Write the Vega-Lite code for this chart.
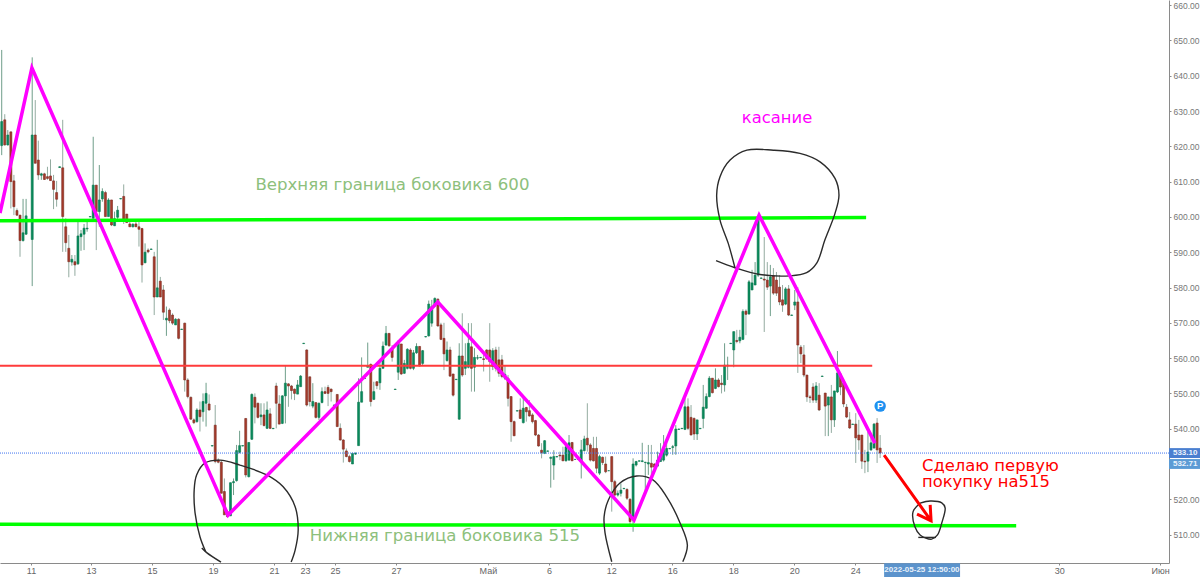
{"$schema":"https://vega.github.io/schema/vega-lite/v6.json","width":1169,"height":563,"autosize":{"type":"none"},"padding":{"left":0,"top":0,"right":31,"bottom":14},"background":"white","config":{"view":{"stroke":null},"font":"Liberation Sans"},
"datasets":{"candles":[
{"i":0,"o":620.2,"h":647.3,"l":617.5,"c":627.0},{"i":1,"o":627.5,"h":629.1,"l":620.2,"c":620.4},{"i":2,"o":620.4,"h":624.6,"l":620.2,"c":623.2},{"i":3,"o":624.1,"h":624.1,"l":602.4,"c":610.0},{"i":4,"o":610.2,"h":611.9,"l":600.5,"c":602.9},{"i":5,"o":601.8,"h":602.4,"l":600.3,"c":600.5},{"i":6,"o":600.5,"h":600.5,"l":588.7,"c":593.3},{"i":7,"o":593.3,"h":605.1,"l":593.0,"c":595.5},{"i":8,"o":595.1,"h":605.1,"l":594.9,"c":600.3},{"i":9,"o":599.1,"h":599.4,"l":599.0,"c":599.3},
{"i":10,"o":593.6,"h":645.2,"l":580.4,"c":623.2},{"i":11,"o":623.2,"h":633.1,"l":615.2,"c":615.2},{"i":12,"o":616.1,"h":621.6,"l":610.5,"c":611.9},{"i":13,"o":611.8,"h":612.5,"l":610.5,"c":612.2},{"i":14,"o":612.2,"h":612.5,"l":610.5,"c":610.6},{"i":15,"o":611.4,"h":614.2,"l":610.5,"c":610.9},{"i":16,"o":611.6,"h":616.3,"l":610.2,"c":610.3},{"i":17,"o":610.2,"h":611.9,"l":602.2,"c":607.8},{"i":18,"o":606.9,"h":610.2,"l":602.9,"c":605.0},{"i":19,"o":614.0,"h":614.3,"l":613.9,"c":614.2},
{"i":20,"o":613.9,"h":627.5,"l":590.1,"c":600.1},{"i":21,"o":597.2,"h":599.6,"l":590.1,"c":592.7},{"i":22,"o":591.1,"h":594.9,"l":582.9,"c":587.3},{"i":23,"o":587.2,"h":589.2,"l":586.2,"c":588.0},{"i":24,"o":587.3,"h":589.2,"l":583.3,"c":586.4},{"i":25,"o":586.7,"h":598.6,"l":586.4,"c":594.6},{"i":26,"o":594.4,"h":596.3,"l":590.4,"c":595.2},{"i":27,"o":595.1,"h":598.0,"l":590.6,"c":596.8},{"i":28,"o":596.6,"h":599.3,"l":595.8,"c":596.8},{"i":29,"o":600.0,"h":600.2,"l":599.9,"c":600.1},
{"i":30,"o":599.6,"h":622.7,"l":599.6,"c":609.0},{"i":31,"o":609.0,"h":609.0,"l":590.6,"c":601.5},{"i":32,"o":601.5,"h":614.7,"l":597.2,"c":604.8},{"i":33,"o":605.1,"h":608.1,"l":604.3,"c":607.2},{"i":34,"o":606.9,"h":607.4,"l":600.1,"c":600.1},{"i":35,"o":600.1,"h":605.3,"l":600.1,"c":604.8},{"i":36,"o":604.8,"h":604.8,"l":597.4,"c":597.7},{"i":37,"o":597.5,"h":601.5,"l":597.4,"c":599.5},{"i":38,"o":599.9,"h":603.1,"l":598.9,"c":601.9},{"i":39,"o":605.1,"h":605.3,"l":605.0,"c":605.2},
{"i":40,"o":605.8,"h":609.2,"l":598.0,"c":598.9},{"i":41,"o":600.8,"h":600.8,"l":598.4,"c":598.4},{"i":42,"o":598.0,"h":599.4,"l":597.2,"c":597.2},{"i":43,"o":597.2,"h":598.2,"l":597.0,"c":597.9},{"i":44,"o":598.0,"h":599.1,"l":597.2,"c":597.2},{"i":45,"o":597.2,"h":599.1,"l":591.6,"c":596.5},{"i":46,"o":596.7,"h":596.9,"l":581.4,"c":586.4},{"i":47,"o":587.0,"h":592.5,"l":586.9,"c":590.0},{"i":48,"o":590.6,"h":591.1,"l":589.7,"c":590.1},{"i":49,"o":590.8,"h":591.0,"l":590.7,"c":590.9},
{"i":50,"o":588.7,"h":590.1,"l":572.2,"c":577.3},{"i":51,"o":577.3,"h":593.5,"l":577.3,"c":579.9},{"i":52,"o":581.8,"h":583.0,"l":577.3,"c":577.3},{"i":53,"o":579.3,"h":580.7,"l":570.8,"c":573.0},{"i":54,"o":570.8,"h":574.6,"l":566.3,"c":571.3},{"i":55,"o":573.6,"h":574.1,"l":569.9,"c":570.6},{"i":56,"o":572.2,"h":572.7,"l":569.4,"c":569.9},{"i":57,"o":569.4,"h":571.3,"l":569.4,"c":571.0},{"i":58,"o":571.0,"h":571.3,"l":565.3,"c":565.6},{"i":59,"o":568.1,"h":568.3,"l":568.0,"c":568.2},
{"i":60,"o":569.9,"h":570.0,"l":550.5,"c":553.8},{"i":61,"o":553.8,"h":554.3,"l":548.6,"c":549.1},{"i":62,"o":548.9,"h":549.1,"l":542.5,"c":542.7},{"i":63,"o":542.5,"h":542.9,"l":541.3,"c":541.7},{"i":64,"o":542.0,"h":545.8,"l":541.7,"c":545.3},{"i":65,"o":545.3,"h":547.7,"l":539.2,"c":543.4},{"i":66,"o":544.8,"h":550.0,"l":542.0,"c":547.7},{"i":67,"o":547.2,"h":553.0,"l":540.6,"c":550.0},{"i":68,"o":547.0,"h":549.7,"l":545.1,"c":545.3},{"i":69,"o":535.1,"h":535.3,"l":535.0,"c":535.2},
{"i":70,"o":541.0,"h":546.7,"l":530.2,"c":530.7},{"i":71,"o":531.1,"h":531.6,"l":530.2,"c":530.5},{"i":72,"o":530.5,"h":531.1,"l":521.7,"c":521.7},{"i":73,"o":522.2,"h":525.9,"l":515.6,"c":515.6},{"i":74,"o":516.5,"h":517.0,"l":514.9,"c":515.1},{"i":75,"o":515.3,"h":524.7,"l":515.3,"c":524.7},{"i":76,"o":524.7,"h":525.9,"l":521.2,"c":525.0},{"i":77,"o":525.3,"h":535.4,"l":525.0,"c":533.8},{"i":78,"o":533.3,"h":539.4,"l":533.0,"c":535.2},{"i":79,"o":535.1,"h":535.3,"l":535.0,"c":535.2},
{"i":80,"o":542.9,"h":542.9,"l":526.2,"c":526.9},{"i":81,"o":526.4,"h":536.1,"l":526.2,"c":536.1},{"i":82,"o":537.0,"h":550.0,"l":536.8,"c":549.7},{"i":83,"o":548.9,"h":550.0,"l":541.5,"c":546.1},{"i":84,"o":547.2,"h":547.4,"l":542.9,"c":543.2},{"i":85,"o":543.4,"h":547.2,"l":541.0,"c":543.9},{"i":86,"o":543.9,"h":547.2,"l":540.6,"c":540.9},{"i":87,"o":540.1,"h":547.7,"l":539.9,"c":545.3},{"i":88,"o":544.2,"h":545.8,"l":539.9,"c":540.1},{"i":89,"o":540.0,"h":540.2,"l":539.9,"c":540.1},
{"i":90,"o":552.1,"h":553.0,"l":540.1,"c":547.2},{"i":91,"o":547.0,"h":549.5,"l":541.3,"c":541.3},{"i":92,"o":541.5,"h":549.5,"l":541.3,"c":549.3},{"i":93,"o":549.3,"h":558.0,"l":541.5,"c":552.9},{"i":94,"o":552.7,"h":552.9,"l":546.2,"c":552.1},{"i":95,"o":552.1,"h":552.4,"l":548.3,"c":550.8},{"i":96,"o":551.2,"h":551.4,"l":548.1,"c":550.0},{"i":97,"o":549.8,"h":553.8,"l":549.8,"c":552.4},{"i":98,"o":551.9,"h":555.2,"l":551.9,"c":554.9},{"i":99,"o":564.1,"h":564.3,"l":564.0,"c":564.2},
{"i":100,"o":562.3,"h":562.5,"l":546.3,"c":546.7},{"i":101,"o":554.7,"h":554.7,"l":546.3,"c":547.7},{"i":102,"o":546.4,"h":552.9,"l":545.8,"c":547.7},{"i":103,"o":547.4,"h":547.4,"l":542.9,"c":543.2},{"i":104,"o":543.2,"h":547.4,"l":542.5,"c":547.2},{"i":105,"o":547.4,"h":551.7,"l":547.2,"c":550.5},{"i":106,"o":550.5,"h":551.9,"l":549.8,"c":550.0},{"i":107,"o":551.7,"h":552.4,"l":546.4,"c":550.0},{"i":108,"o":551.2,"h":551.4,"l":547.7,"c":550.5},{"i":109,"o":546.6,"h":546.8,"l":546.5,"c":546.7},
{"i":110,"o":549.7,"h":549.7,"l":540.6,"c":540.6},{"i":111,"o":540.1,"h":541.5,"l":536.6,"c":536.8},{"i":112,"o":536.8,"h":537.0,"l":530.4,"c":534.2},{"i":113,"o":533.7,"h":534.4,"l":531.9,"c":532.1},{"i":114,"o":532.1,"h":532.6,"l":530.4,"c":530.7},{"i":115,"o":530.0,"h":533.2,"l":530.0,"c":533.0},{"i":116,"o":532.8,"h":533.2,"l":532.6,"c":533.1},{"i":117,"o":535.2,"h":554.3,"l":535.2,"c":547.5},{"i":118,"o":547.5,"h":560.2,"l":547.5,"c":550.5},{"i":119,"o":554.2,"h":554.4,"l":554.1,"c":554.3},
{"i":120,"o":557.4,"h":564.4,"l":557.4,"c":557.8},{"i":121,"o":558.2,"h":558.5,"l":546.3,"c":547.7},{"i":122,"o":548.3,"h":553.3,"l":548.1,"c":550.5},{"i":123,"o":553.3,"h":553.5,"l":551.2,"c":552.2},{"i":124,"o":553.0,"h":559.0,"l":551.0,"c":557.1},{"i":125,"o":557.1,"h":564.7,"l":557.1,"c":563.4},{"i":126,"o":563.7,"h":569.1,"l":563.5,"c":567.0},{"i":127,"o":567.0,"h":567.0,"l":563.2,"c":563.5},{"i":128,"o":562.8,"h":563.7,"l":559.0,"c":560.2},{"i":129,"o":551.1,"h":551.3,"l":551.0,"c":551.2},
{"i":130,"o":556.0,"h":565.1,"l":553.8,"c":564.2},{"i":131,"o":564.0,"h":564.0,"l":555.2,"c":555.5},{"i":132,"o":555.7,"h":559.5,"l":555.5,"c":558.5},{"i":133,"o":557.1,"h":562.8,"l":556.8,"c":562.5},{"i":134,"o":562.3,"h":562.8,"l":556.8,"c":557.1},{"i":135,"o":557.1,"h":562.3,"l":556.6,"c":561.5},{"i":136,"o":561.5,"h":564.2,"l":561.2,"c":563.3},{"i":137,"o":563.3,"h":563.4,"l":557.6,"c":557.8},{"i":138,"o":558.5,"h":562.3,"l":557.8,"c":562.1},{"i":139,"o":566.0,"h":566.2,"l":565.9,"c":566.1},
{"i":140,"o":566.3,"h":576.3,"l":566.1,"c":575.3},{"i":141,"o":569.9,"h":576.5,"l":568.9,"c":574.6},{"i":142,"o":574.8,"h":577.2,"l":574.6,"c":576.9},{"i":143,"o":576.7,"h":576.9,"l":568.9,"c":569.1},{"i":144,"o":569.4,"h":570.0,"l":565.1,"c":565.3},{"i":145,"o":565.6,"h":570.0,"l":556.6,"c":561.2},{"i":146,"o":559.3,"h":564.7,"l":559.0,"c":562.3},{"i":147,"o":562.3,"h":563.2,"l":554.7,"c":554.9},{"i":148,"o":555.5,"h":555.5,"l":549.1,"c":549.5},{"i":149,"o":553.9,"h":554.1,"l":553.8,"c":554.0},
{"i":150,"o":542.7,"h":564.2,"l":542.5,"c":560.6},{"i":151,"o":560.6,"h":572.7,"l":554.7,"c":555.2},{"i":152,"o":557.1,"h":564.2,"l":555.2,"c":559.0},{"i":153,"o":557.4,"h":569.9,"l":557.1,"c":564.2},{"i":154,"o":563.2,"h":569.9,"l":550.5,"c":557.1},{"i":155,"o":557.4,"h":562.8,"l":550.5,"c":560.2},{"i":156,"o":560.0,"h":560.9,"l":559.5,"c":560.1},{"i":157,"o":560.1,"h":560.3,"l":560.0,"c":560.2},{"i":158,"o":559.8,"h":560.9,"l":556.2,"c":559.6},{"i":159,"o":562.3,"h":562.5,"l":559.5,"c":559.9},
{"i":160,"o":562.3,"h":569.9,"l":553.3,"c":559.0},{"i":161,"o":557.6,"h":562.8,"l":556.6,"c":562.1},{"i":162,"o":562.3,"h":563.2,"l":556.2,"c":557.1},{"i":163,"o":559.5,"h":563.2,"l":554.7,"c":555.7},{"i":164,"o":559.5,"h":560.9,"l":554.3,"c":554.8},{"i":165,"o":554.3,"h":557.8,"l":553.8,"c":555.4},{"i":166,"o":554.3,"h":555.2,"l":546.3,"c":548.6},{"i":167,"o":549.1,"h":549.1,"l":536.3,"c":542.0},{"i":168,"o":542.0,"h":542.3,"l":537.9,"c":538.0},{"i":169,"o":545.0,"h":545.2,"l":544.9,"c":545.1},
{"i":170,"o":545.3,"h":548.6,"l":542.8,"c":542.9},{"i":171,"o":541.7,"h":549.1,"l":541.5,"c":545.8},{"i":172,"o":546.0,"h":546.2,"l":542.0,"c":544.8},{"i":173,"o":545.1,"h":548.1,"l":543.4,"c":543.6},{"i":174,"o":543.9,"h":544.4,"l":541.5,"c":542.0},{"i":175,"o":542.3,"h":542.5,"l":537.9,"c":538.2},{"i":176,"o":538.2,"h":538.5,"l":534.9,"c":535.1},{"i":177,"o":533.9,"h":535.9,"l":531.6,"c":533.2},{"i":178,"o":533.0,"h":536.8,"l":532.8,"c":536.6},{"i":179,"o":533.6,"h":533.8,"l":533.5,"c":533.7},
{"i":180,"o":531.6,"h":532.1,"l":523.3,"c":531.9},{"i":181,"o":529.7,"h":533.9,"l":525.5,"c":532.1},{"i":182,"o":532.0,"h":532.2,"l":531.9,"c":532.1},{"i":183,"o":532.5,"h":533.5,"l":531.1,"c":532.3},{"i":184,"o":532.5,"h":534.9,"l":530.9,"c":530.9},{"i":185,"o":530.9,"h":535.4,"l":530.7,"c":534.9},{"i":186,"o":531.1,"h":538.2,"l":530.9,"c":536.0},{"i":187,"o":536.1,"h":536.1,"l":530.9,"c":530.9},{"i":188,"o":531.3,"h":531.4,"l":531.2,"c":531.3},{"i":189,"o":531.3,"h":531.4,"l":531.2,"c":531.3},
{"i":190,"o":530.7,"h":536.8,"l":525.9,"c":534.0},{"i":191,"o":533.8,"h":538.0,"l":533.5,"c":537.1},{"i":192,"o":537.3,"h":547.2,"l":533.5,"c":535.4},{"i":193,"o":535.4,"h":535.9,"l":530.7,"c":531.1},{"i":194,"o":534.4,"h":537.7,"l":530.7,"c":530.9},{"i":195,"o":534.4,"h":537.7,"l":527.4,"c":528.8},{"i":196,"o":527.4,"h":532.6,"l":526.9,"c":532.1},{"i":197,"o":531.9,"h":532.1,"l":529.7,"c":530.4},{"i":198,"o":530.0,"h":532.1,"l":527.4,"c":527.8},{"i":199,"o":528.1,"h":528.2,"l":528.0,"c":528.1},
{"i":200,"o":532.1,"h":532.1,"l":516.5,"c":525.0},{"i":201,"o":525.0,"h":525.5,"l":520.8,"c":521.2},{"i":202,"o":521.2,"h":522.5,"l":520.8,"c":521.7},{"i":203,"o":521.7,"h":524.5,"l":520.8,"c":522.6},{"i":204,"o":523.0,"h":523.2,"l":522.9,"c":523.1},{"i":205,"o":522.8,"h":523.1,"l":519.8,"c":520.3},{"i":206,"o":520.0,"h":520.3,"l":512.7,"c":513.7},{"i":207,"o":514.1,"h":531.6,"l":510.8,"c":530.0},{"i":208,"o":529.7,"h":530.9,"l":529.3,"c":530.7},{"i":209,"o":530.8,"h":531.0,"l":530.7,"c":530.9},
{"i":210,"o":530.7,"h":536.0,"l":530.5,"c":530.9},{"i":211,"o":530.4,"h":530.6,"l":521.7,"c":530.5},{"i":212,"o":530.0,"h":535.4,"l":526.9,"c":530.4},{"i":213,"o":530.2,"h":535.4,"l":526.4,"c":529.1},{"i":214,"o":530.0,"h":530.2,"l":528.9,"c":529.1},{"i":215,"o":529.4,"h":533.5,"l":529.3,"c":531.1},{"i":216,"o":530.7,"h":535.9,"l":530.7,"c":533.0},{"i":217,"o":531.1,"h":538.2,"l":530.7,"c":534.4},{"i":218,"o":532.5,"h":535.9,"l":532.1,"c":534.4},{"i":219,"o":534.3,"h":534.5,"l":534.2,"c":534.4},
{"i":220,"o":534.7,"h":535.4,"l":532.6,"c":534.9},{"i":221,"o":535.1,"h":541.0,"l":532.6,"c":539.9},{"i":222,"o":539.8,"h":540.0,"l":539.7,"c":539.9},{"i":223,"o":540.0,"h":540.2,"l":539.9,"c":540.1},{"i":224,"o":539.8,"h":548.6,"l":539.6,"c":546.2},{"i":225,"o":546.2,"h":548.6,"l":539.6,"c":540.1},{"i":226,"o":543.2,"h":546.7,"l":538.2,"c":538.2},{"i":227,"o":542.9,"h":543.2,"l":536.8,"c":538.5},{"i":228,"o":538.5,"h":542.5,"l":536.8,"c":542.5},{"i":229,"o":540.0,"h":540.2,"l":539.9,"c":540.1},
{"i":230,"o":542.9,"h":552.4,"l":540.1,"c":546.1},{"i":231,"o":545.8,"h":550.0,"l":545.6,"c":549.1},{"i":232,"o":549.1,"h":554.9,"l":548.9,"c":554.3},{"i":233,"o":554.3,"h":554.3,"l":550.0,"c":550.2},{"i":234,"o":551.4,"h":557.1,"l":551.2,"c":553.8},{"i":235,"o":553.8,"h":554.3,"l":551.7,"c":551.9},{"i":236,"o":552.9,"h":555.2,"l":550.0,"c":552.5},{"i":237,"o":552.4,"h":564.2,"l":550.5,"c":558.0},{"i":238,"o":557.8,"h":560.4,"l":553.8,"c":558.0},{"i":239,"o":564.1,"h":564.3,"l":564.0,"c":564.2},
{"i":240,"o":562.3,"h":567.5,"l":557.4,"c":567.5},{"i":241,"o":565.0,"h":568.0,"l":564.2,"c":564.7},{"i":242,"o":564.9,"h":568.0,"l":564.2,"c":565.9},{"i":243,"o":565.3,"h":573.8,"l":565.1,"c":573.2},{"i":244,"o":573.3,"h":573.8,"l":566.5,"c":572.4},{"i":245,"o":572.5,"h":582.1,"l":572.3,"c":581.6},{"i":246,"o":579.3,"h":585.0,"l":579.3,"c":581.3},{"i":247,"o":580.7,"h":587.2,"l":580.7,"c":583.5},{"i":248,"o":583.5,"h":599.7,"l":583.0,"c":599.1},{"i":249,"o":582.6,"h":582.8,"l":582.5,"c":582.7},
{"i":250,"o":582.4,"h":594.3,"l":567.4,"c":582.1},{"i":251,"o":582.1,"h":587.2,"l":579.3,"c":580.1},{"i":252,"o":580.4,"h":586.4,"l":571.9,"c":583.0},{"i":253,"o":583.3,"h":585.5,"l":577.9,"c":578.4},{"i":254,"o":582.1,"h":584.4,"l":577.6,"c":578.4},{"i":255,"o":580.1,"h":583.5,"l":575.0,"c":575.9},{"i":256,"o":576.5,"h":580.7,"l":573.1,"c":575.0},{"i":257,"o":575.3,"h":580.1,"l":575.0,"c":579.6},{"i":258,"o":579.6,"h":580.7,"l":571.9,"c":572.2},{"i":259,"o":572.1,"h":572.3,"l":572.0,"c":572.2},
{"i":260,"o":575.0,"h":579.3,"l":573.6,"c":575.9},{"i":261,"o":575.9,"h":580.1,"l":555.8,"c":563.7},{"i":262,"o":563.1,"h":563.7,"l":558.6,"c":561.2},{"i":263,"o":560.9,"h":563.7,"l":554.6,"c":555.2},{"i":264,"o":555.2,"h":555.2,"l":547.6,"c":549.0},{"i":265,"o":549.0,"h":549.5,"l":547.3,"c":548.8},{"i":266,"o":551.8,"h":552.9,"l":547.3,"c":548.1},{"i":267,"o":548.1,"h":553.2,"l":547.3,"c":552.1},{"i":268,"o":549.5,"h":552.9,"l":545.0,"c":545.3},{"i":269,"o":554.8,"h":555.0,"l":554.7,"c":554.9},
{"i":270,"o":550.1,"h":550.1,"l":537.9,"c":546.4},{"i":271,"o":546.7,"h":549.0,"l":537.9,"c":549.0},{"i":272,"o":549.0,"h":552.4,"l":538.8,"c":542.5},{"i":273,"o":542.5,"h":550.7,"l":540.5,"c":550.7},{"i":274,"o":550.4,"h":562.0,"l":550.1,"c":555.8},{"i":275,"o":555.5,"h":555.8,"l":549.5,"c":551.8},{"i":276,"o":552.9,"h":553.8,"l":546.1,"c":547.0},{"i":277,"o":546.1,"h":547.0,"l":543.0,"c":543.3},{"i":278,"o":542.5,"h":544.7,"l":539.9,"c":540.2},{"i":279,"o":541.2,"h":541.4,"l":541.1,"c":541.3},
{"i":280,"o":541.3,"h":544.4,"l":530.3,"c":537.4},{"i":281,"o":538.2,"h":542.5,"l":534.0,"c":536.8},{"i":282,"o":538.2,"h":538.2,"l":528.6,"c":530.8},{"i":283,"o":530.8,"h":534.0,"l":527.4,"c":530.6},{"i":284,"o":530.8,"h":539.1,"l":527.7,"c":533.4},{"i":285,"o":534.0,"h":538.8,"l":533.7,"c":536.0},{"i":286,"o":534.5,"h":541.6,"l":534.5,"c":541.3},{"i":287,"o":541.6,"h":543.0,"l":530.3,"c":534.0},{"i":288,"o":534.5,"h":538.2,"l":531.7,"c":533.1}],
"lines":[
{"g":"last","n":0,"i":-0.56,"p":533.1},{"g":"last","n":1,"i":382.7,"p":533.1},
{"g":"mid","n":0,"i":-0.56,"p":557.8},{"g":"mid","n":1,"i":285.4,"p":557.8},
{"g":"top","n":0,"i":-0.56,"p":598.9},{"g":"top","n":1,"i":283.4,"p":599.8},
{"g":"bottom","n":0,"i":-0.56,"p":512.9},{"g":"bottom","n":1,"i":332.6,"p":512.5},
{"g":"zig","n":0,"i":-0.56,"p":601.1},{"g":"zig","n":1,"i":9.9,"p":642.2},{"g":"zig","n":2,"i":74.2,"p":515.5},{"g":"zig","n":3,"i":143.0,"p":575.9},{"g":"zig","n":4,"i":207.3,"p":514.1},{"g":"zig","n":5,"i":248.3,"p":600.5},{"g":"zig","n":6,"i":286.3,"p":535.9},
{"g":"arrow","n":0,"i":289.3,"p":532.5},{"g":"arrow","n":1,"i":304.7,"p":513.9},{"g":"arrow","n":2,"i":300.1,"p":515.8},{"g":"arrow","n":3,"i":304.7,"p":513.9},{"g":"arrow","n":4,"i":304.4,"p":518.4}],
"curves":[
{"g":"a0","n":0,"i":65.6,"p":506.2},{"g":"a0","n":1,"i":67.2,"p":504.9},{"g":"a0","n":2,"i":71.9,"p":502.2},
{"g":"a1","n":0,"i":66.9,"p":505.1},{"g":"a1","n":1,"i":65.0,"p":509.4},{"g":"a1","n":2,"i":63.4,"p":516.1},{"g":"a1","n":3,"i":63.1,"p":522.6},{"g":"a1","n":4,"i":63.9,"p":526.9},{"g":"a1","n":5,"i":66.7,"p":530.3},{"g":"a1","n":6,"i":71.6,"p":531.1},{"g":"a1","n":7,"i":78.1,"p":529.7},{"g":"a1","n":8,"i":86.9,"p":526.9},{"g":"a1","n":9,"i":92.2,"p":523.6},{"g":"a1","n":10,"i":96.2,"p":517.9},{"g":"a1","n":11,"i":97.2,"p":511.3},{"g":"a1","n":12,"i":96.2,"p":505.6},{"g":"a1","n":13,"i":94.9,"p":502.2},
{"g":"b","n":0,"i":200.0,"p":502.3},{"g":"b","n":1,"i":197.8,"p":510.5},{"g":"b","n":2,"i":197.5,"p":515.1},{"g":"b","n":3,"i":198.9,"p":519.8},{"g":"b","n":4,"i":202.7,"p":524.6},{"g":"b","n":5,"i":208.2,"p":526.6},{"g":"b","n":6,"i":213.5,"p":525.5},{"g":"b","n":7,"i":218.0,"p":520.7},{"g":"b","n":8,"i":222.4,"p":513.3},{"g":"b","n":9,"i":224.8,"p":507.0},{"g":"b","n":10,"i":223.3,"p":502.3},
{"g":"c","n":0,"i":234.2,"p":587.6},{"g":"c","n":1,"i":240.4,"p":585.6},{"g":"c","n":2,"i":248.6,"p":583.7},{"g":"c","n":3,"i":258.5,"p":583.3},{"g":"c","n":4,"i":263.9,"p":584.2},{"g":"c","n":5,"i":267.2,"p":586.9},{"g":"c","n":6,"i":269.9,"p":593.5},{"g":"c","n":7,"i":273.2,"p":601.0},{"g":"c","n":8,"i":274.5,"p":606.2},{"g":"c","n":9,"i":273.2,"p":610.9},{"g":"c","n":10,"i":268.3,"p":615.6},{"g":"c","n":11,"i":261.7,"p":618.0},{"g":"c","n":12,"i":253.0,"p":618.9},{"g":"c","n":13,"i":244.3,"p":618.9},{"g":"c","n":14,"i":238.8,"p":616.1},{"g":"c","n":15,"i":235.5,"p":611.4},{"g":"c","n":16,"i":234.4,"p":606.2},{"g":"c","n":17,"i":235.5,"p":599.1},{"g":"c","n":18,"i":238.2,"p":592.5},{"g":"c","n":19,"i":240.4,"p":585.6},
{"g":"d","n":0,"i":301.1,"p":518.9},{"g":"d","n":1,"i":298.8,"p":516.5},{"g":"d","n":2,"i":299.4,"p":512.2},{"g":"d","n":3,"i":301.1,"p":509.9},{"g":"d","n":4,"i":304.9,"p":508.7},{"g":"d","n":5,"i":306.8,"p":509.9},{"g":"d","n":6,"i":308.2,"p":513.3},{"g":"d","n":7,"i":309.3,"p":517.6},{"g":"d","n":8,"i":308.2,"p":519.0},{"g":"d","n":9,"i":304.4,"p":519.5},{"g":"d","n":10,"i":301.1,"p":518.9},
{"g":"e","n":0,"i":300.5,"p":509.2},{"g":"e","n":1,"i":306.3,"p":509.2}],
"tags":[{"k":"date","a":289.3,"b":314.2,"lo":497.9,"hi":501.9},{"k":"last","a":382.7,"b":392.9,"lo":531.7,"hi":534.5},{"k":"cur","a":382.7,"b":392.9,"lo":528.6,"hi":531.4}],
"notes":[
{"g":"green","i":128.1,"p":609.0,"t":"Верхняя граница боковика 600"},{"g":"green","i":145.3,"p":509.6,"t":"Нижняя граница боковика 515"},
{"g":"mag","i":254.2,"p":628.0,"t":"касание"},
{"g":"red","i":301.7,"p":529.4,"t":"Сделаю первую"},{"g":"red","i":301.7,"p":524.9,"t":"покупку на515"},
{"g":"tag","i":301.7,"p":499.9,"t":"2022-05-25 12:50:00"},{"g":"tag","i":388,"p":533.1,"t":"533.10"},{"g":"tag","i":388,"p":530.0,"t":"532.71"},
{"g":"p","i":288,"p":546.4,"t":"P"}]},
"encoding":{"x":{"field":"i","type":"quantitative","title":null,"scale":{"domain":[-0.56,382.7],"nice":false,"zero":false,"padding":0},"axis":{"orient":"bottom","values":[9.6,29.3,49.3,69.3,89.3,99.4,109.3,129.3,159.4,179.4,199.8,219.8,239.8,259.8,279.8,346.7,379.8],"labelExpr":"{'9.6':'11','29.3':'13','49.3':'15','69.3':'19','89.3':'21','99.4':'23','109.3':'25','129.3':'27','159.4':'Май','179.4':'6','199.8':'12','219.8':'16','239.8':'18','259.8':'20','279.8':'24','346.7':'30','379.8':'Июн'}[datum.value]","grid":false,"domainColor":"#8a8a8a","domainWidth":1,"tickColor":"#8a8a8a","tickSize":2,"labelColor":"#666666","labelFont":"Liberation Sans","labelFontSize":9,"labelPadding":1,"labelOverlap":false,"labelFlush":false}},
"y":{"field":"p","type":"quantitative","title":null,"scale":{"domain":[501.95,661.45],"nice":false,"zero":false,"padding":0},"axis":{"orient":"right","values":[510,520,540,550,560,570,580,590,600,610,620,630,640,650,660],"format":".2f","grid":false,"domainColor":"#8a8a8a","domainWidth":1,"tickColor":"#8a8a8a","tickSize":2,"labelColor":"#777777","labelFont":"Liberation Sans","labelFontSize":8.5,"labelPadding":2,"labelOverlap":false}}},
"layer":[
{"data":{"name":"candles"},"mark":{"type":"rule","strokeWidth":1,"opacity":0.75},"encoding":{"y":{"field":"l","type":"quantitative","scale":{"domain":[501.95,661.45],"nice":false,"zero":false,"padding":0}},"y2":{"field":"h"},"color":{"condition":{"test":"datum.c>=datum.o","value":"#3f7d63"},"value":"#6f8f80"}}},
{"data":{"name":"candles"},"mark":{"type":"bar","width":2,"strokeWidth":0.6},"encoding":{"y":{"field":"o","type":"quantitative","scale":{"domain":[501.95,661.45],"nice":false,"zero":false,"padding":0}},"y2":{"field":"c"},"color":{"condition":{"test":"datum.c>=datum.o","value":"#0a8a5c"},"value":"#a83b2b"},"stroke":{"condition":{"test":"datum.c>=datum.o","value":"#0a7a50"},"value":"#7a2a20"}}},
{"data":{"name":"lines"},"transform":[{"filter":"datum.g=='last'"}],"mark":{"type":"line","stroke":"#3f73f0","strokeWidth":1,"strokeDash":[1,1]},"encoding":{"order":{"field":"n"}}},
{"data":{"name":"lines"},"transform":[{"filter":"datum.g=='mid'"}],"mark":{"type":"line","stroke":"#ff3b3b","strokeWidth":2},"encoding":{"order":{"field":"n"}}},
{"data":{"name":"lines"},"transform":[{"filter":"datum.g=='top'||datum.g=='bottom'"}],"mark":{"type":"line","stroke":"#00ff00","strokeWidth":3.5},"encoding":{"detail":{"field":"g"},"order":{"field":"n"}}},
{"data":{"name":"curves"},"mark":{"type":"line","stroke":"#2b2b2b","strokeWidth":1.4,"interpolate":"catmull-rom"},"encoding":{"detail":{"field":"g"},"order":{"field":"n"}}},
{"data":{"name":"lines"},"transform":[{"filter":"datum.g=='zig'"}],"mark":{"type":"line","stroke":"#ff00ff","strokeWidth":3.5,"strokeJoin":"miter"},"encoding":{"order":{"field":"n"}}},
{"data":{"name":"lines"},"transform":[{"filter":"datum.g=='arrow'"}],"mark":{"type":"line","stroke":"#ff0000","strokeWidth":3},"encoding":{"order":{"field":"n"}}},
{"data":{"name":"tags"},"mark":{"type":"rect"},"encoding":{"x":{"field":"a","type":"quantitative","scale":{"domain":[-0.56,382.7],"nice":false,"zero":false,"padding":0}},"x2":{"field":"b"},"y":{"field":"lo","type":"quantitative","scale":{"domain":[501.95,661.45],"nice":false,"zero":false,"padding":0}},"y2":{"field":"hi"},"color":{"field":"k","type":"nominal","legend":null,"scale":{"domain":["date","last","cur"],"range":["#5b93cc","#4a7fd0","#5b9bd5"]}}}},
{"data":{"name":"notes"},"transform":[{"filter":"datum.g=='p'"}],"mark":{"type":"point","filled":true,"shape":"circle","size":130,"color":"#1e90f0","opacity":1}},
{"data":{"name":"notes"},"transform":[{"filter":"datum.g=='green'"}],"mark":{"type":"text","font":"DejaVu Sans","fontSize":16.6,"color":"#8dc07c","align":"center","baseline":"middle"},"encoding":{"text":{"field":"t"}}},
{"data":{"name":"notes"},"transform":[{"filter":"datum.g=='mag'"}],"mark":{"type":"text","font":"DejaVu Sans","fontSize":16.4,"color":"#ff00ff","align":"center","baseline":"middle"},"encoding":{"text":{"field":"t"}}},
{"data":{"name":"notes"},"transform":[{"filter":"datum.g=='red'"}],"mark":{"type":"text","font":"DejaVu Sans","fontSize":16.4,"color":"#ff0000","align":"left","baseline":"middle"},"encoding":{"text":{"field":"t"}}},
{"data":{"name":"notes"},"transform":[{"filter":"datum.g=='tag'"}],"mark":{"type":"text","font":"Liberation Sans","fontSize":8,"fontWeight":"bold","color":"#eaf2fb","align":"center","baseline":"middle"},"encoding":{"text":{"field":"t"}}},
{"data":{"name":"notes"},"transform":[{"filter":"datum.g=='p'"}],"mark":{"type":"text","font":"Liberation Sans","fontSize":9.5,"fontWeight":"bold","color":"#ffffff","align":"center","baseline":"middle"},"encoding":{"text":{"field":"t"}}}
]}
